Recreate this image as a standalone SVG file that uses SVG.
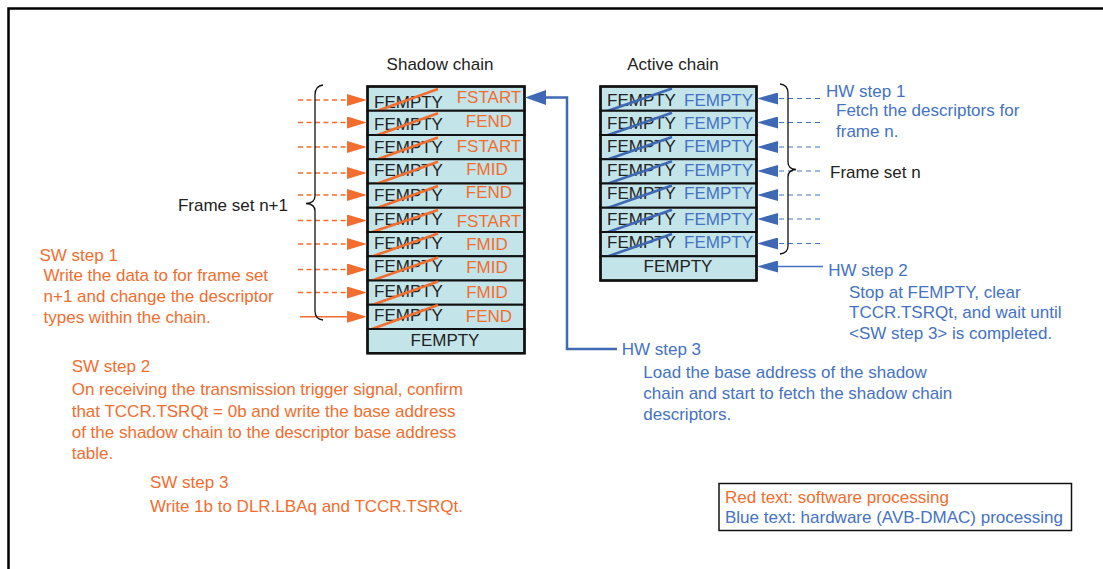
<svg xmlns="http://www.w3.org/2000/svg" width="1103" height="569" viewBox="0 0 1103 569">
<style>
text{font-family:"Liberation Sans",Arial,sans-serif;font-size:17px}
.k{fill:#222}
.o{fill:#F26D2E}
.b{fill:#4472C4}
.row{fill:#C3E4E9;stroke:#111;stroke-width:2}
.so{stroke:#F26D2E;stroke-width:2.5;fill:none}
.sb{stroke:#3F68B5;stroke-width:2.5;fill:none}
.dor{stroke:#F26D2E;stroke-width:1.4;stroke-dasharray:5 3.5;fill:none}
.dbl{stroke:#4472C4;stroke-width:1.2;stroke-dasharray:5 4;fill:none}
.brace{stroke:#111;stroke-width:1.3;fill:none}
.m{text-anchor:middle}
.e{text-anchor:end}
</style>
<defs>
<marker id="ao" viewBox="0 0 20 12" refX="0" refY="6" markerWidth="20" markerHeight="12" markerUnits="userSpaceOnUse" orient="auto"><path d="M0,0 L20,6 L0,12 z" fill="#F26D2E"/></marker>
<marker id="ab" viewBox="0 0 21 12" refX="0" refY="6" markerWidth="21" markerHeight="12" markerUnits="userSpaceOnUse" orient="auto"><path d="M0,0 L21,6 L0,12 z" fill="#3F68B5"/></marker>
<marker id="abL" viewBox="0 0 21 15" refX="0" refY="7.5" markerWidth="21" markerHeight="15" markerUnits="userSpaceOnUse" orient="auto"><path d="M0,0 L21,7.5 L0,15 z" fill="#3F68B5"/></marker>
</defs>
<rect x="8.5" y="8.5" width="1200" height="700" fill="none" stroke="#000" stroke-width="2.5"/>

<text id="title-shadow" class="k m" x="440" y="70">Shadow chain</text>
<text id="title-active" class="k m" x="673" y="69.5">Active chain</text>

<g id="shadow-chain">
<g id="s1"><rect class="row" x="367.5" y="86.5" width="157" height="24.25"/><text class="k" x="374" y="107.7">FEMPTY</text><text class="o m" x="489" y="103.3">FSTART</text><path class="so" d="M372,112.8 L438,89"/></g>
<g id="s2"><rect class="row" x="367.5" y="110.75" width="157" height="24.25"/><text class="k" x="374" y="130">FEMPTY</text><text class="o m" x="489" y="127.3">FEND</text><path class="so" d="M372,137 L438,113.2"/></g>
<g id="s3"><rect class="row" x="367.5" y="135" width="157" height="24.25"/><text class="k" x="374" y="152.7">FEMPTY</text><text class="o m" x="489" y="151.7">FSTART</text><path class="so" d="M372,161.2 L438,137.5"/></g>
<g id="s4"><rect class="row" x="367.5" y="159.25" width="157" height="24.25"/><text class="k" x="374" y="176">FEMPTY</text><text class="o m" x="487" y="175">FMID</text><path class="so" d="M372,185.5 L438,161.7"/></g>
<g id="s5"><rect class="row" x="367.5" y="183.5" width="157" height="24.25"/><text class="k" x="374" y="200.7">FEMPTY</text><text class="o m" x="489" y="198">FEND</text><path class="so" d="M372,209.7 L438,186"/></g>
<g id="s6"><rect class="row" x="367.5" y="207.75" width="157" height="24.25"/><text class="k" x="374" y="225">FEMPTY</text><text class="o m" x="489" y="226.7">FSTART</text><path class="so" d="M372,232 L438,210"/></g>
<g id="s7"><rect class="row" x="367.5" y="232" width="157" height="24.25"/><text class="k" x="374" y="249.3">FEMPTY</text><text class="o m" x="487" y="250">FMID</text><path class="so" d="M372,256.5 L438,233.5"/></g>
<g id="s8"><rect class="row" x="367.5" y="256.25" width="157" height="24.25"/><text class="k" x="374" y="271.7">FEMPTY</text><text class="o m" x="487" y="272.7">FMID</text><path class="so" d="M372,280.5 L438,257.5"/></g>
<g id="s9"><rect class="row" x="367.5" y="280.5" width="157" height="24.25"/><text class="k" x="374" y="296.7">FEMPTY</text><text class="o m" x="487" y="297.7">FMID</text><path class="so" d="M372,305 L438,281.5"/></g>
<g id="s10"><rect class="row" x="367.5" y="304.75" width="157" height="24.25"/><text class="k" x="374" y="320.7">FEMPTY</text><text class="o m" x="489" y="322.3">FEND</text><path class="so" d="M372,329 L438,305"/></g>
<g id="s11"><rect class="row" x="367.5" y="329" width="157" height="24.25"/><text class="k m" x="445" y="346">FEMPTY</text></g>
<rect x="367.5" y="86.5" width="157" height="266.75" fill="none" stroke="#111" stroke-width="2.5"/>
</g>

<g id="active-chain">
<g id="a1"><rect class="row" x="600.5" y="86.5" width="156" height="24.25"/><text class="k" x="607" y="105.5">FEMPTY</text><text class="b e" x="753" y="105.5">FEMPTY</text><path class="sb" d="M606,111.5 L672,88.5"/></g>
<g id="a2"><rect class="row" x="600.5" y="110.75" width="156" height="24.25"/><text class="k" x="607" y="129">FEMPTY</text><text class="b e" x="753" y="129">FEMPTY</text><path class="sb" d="M606,135.7 L672,112.7"/></g>
<g id="a3"><rect class="row" x="600.5" y="135" width="156" height="24.25"/><text class="k" x="607" y="152.3">FEMPTY</text><text class="b e" x="753" y="152.3">FEMPTY</text><path class="sb" d="M606,160 L672,137"/></g>
<g id="a4"><rect class="row" x="600.5" y="159.25" width="156" height="24.25"/><text class="k" x="607" y="175.7">FEMPTY</text><text class="b e" x="753" y="175.7">FEMPTY</text><path class="sb" d="M606,184.2 L672,161.2"/></g>
<g id="a5"><rect class="row" x="600.5" y="183.5" width="156" height="24.25"/><text class="k" x="607" y="199.3">FEMPTY</text><text class="b e" x="753" y="199.3">FEMPTY</text><path class="sb" d="M606,208.5 L672,185.5"/></g>
<g id="a6"><rect class="row" x="600.5" y="207.75" width="156" height="24.25"/><text class="k" x="607" y="225">FEMPTY</text><text class="b e" x="753" y="225">FEMPTY</text><path class="sb" d="M606,232.7 L672,209.7"/></g>
<g id="a7"><rect class="row" x="600.5" y="232" width="156" height="24.25"/><text class="k" x="607" y="247.7">FEMPTY</text><text class="b e" x="753" y="247.7">FEMPTY</text><path class="sb" d="M606,257 L672,234"/></g>
<g id="a8"><rect class="row" x="600.5" y="256.25" width="156" height="24.25"/><text class="k m" x="678" y="271.7">FEMPTY</text></g>
<rect x="600.5" y="86.5" width="156" height="194" fill="none" stroke="#111" stroke-width="2.5"/>
</g>

<g id="connectors">
<path class="dor" d="M298,100 H347" marker-end="url(#ao)"/>
<path class="dor" d="M298,122.5 H347" marker-end="url(#ao)"/>
<path class="dor" d="M298,147 H347" marker-end="url(#ao)"/>
<path class="dor" d="M298,173 H347" marker-end="url(#ao)"/>
<path class="dor" d="M298,195 H347" marker-end="url(#ao)"/>
<path class="dor" d="M298,220.5 H347" marker-end="url(#ao)"/>
<path class="dor" d="M298,244 H347" marker-end="url(#ao)"/>
<path class="dor" d="M298,269.5 H347" marker-end="url(#ao)"/>
<path class="dor" d="M298,292.5 H347" marker-end="url(#ao)"/>
<path d="M300,316.7 H347" stroke="#F26D2E" stroke-width="1.5" fill="none" marker-end="url(#ao)"/>

<path class="dbl" d="M820,98.5 H778" marker-end="url(#ab)"/>
<path class="dbl" d="M820,122.5 H778" marker-end="url(#ab)"/>
<path class="dbl" d="M820,147 H778" marker-end="url(#ab)"/>
<path class="dbl" d="M820,171 H778" marker-end="url(#ab)"/>
<path class="dbl" d="M820,195 H778" marker-end="url(#ab)"/>
<path class="dbl" d="M820,219 H778" marker-end="url(#ab)"/>
<path class="dbl" d="M820,243.5 H778" marker-end="url(#ab)"/>
<path d="M823,266.5 H778" stroke="#4472C4" stroke-width="1.5" fill="none" marker-end="url(#ab)"/>

<path d="M617,349 H567 V97.5 H546" stroke="#3F68B5" stroke-width="2.5" fill="none" marker-end="url(#abL)"/>

<path class="brace" d="M323,85 Q315,86 315,95 V196 Q315,203 306,203.5 Q315,204 315,211 V311 Q315,319 323,320"/>
<path class="brace" d="M780,84 Q788,85 788,93 V162 Q788,169 796,169.5 Q788,170 788,177 V246 Q788,253 780,254"/>
</g>

<g id="labels">
<text class="k e" x="288" y="210.7">Frame set n+1</text>
<text class="k" x="830" y="178">Frame set n</text>

<text class="o" x="39.5" y="260.7">SW step 1</text>
<text class="o" x="43.5" y="280.7">Write the data to for frame set</text>
<text class="o" x="43.5" y="301.7">n+1 and change the descriptor</text>
<text class="o" x="43.5" y="323">types within the chain.</text>

<text class="o" x="71.7" y="371.7">SW step 2</text>
<text class="o" x="71.7" y="395">On receiving the transmission trigger signal, confirm</text>
<text class="o" x="71.7" y="416.5">that TCCR.TSRQt = 0b and write the base address</text>
<text class="o" x="71.7" y="437.7">of the shadow chain to the descriptor base address</text>
<text class="o" x="71.7" y="459">table.</text>

<text class="o" x="150" y="488.3">SW step 3</text>
<text class="o" x="150" y="511.7">Write 1b to DLR.LBAq and TCCR.TSRQt.</text>

<text class="b" x="826" y="96.7">HW step 1</text>
<text class="b" x="836" y="116">Fetch the descriptors for</text>
<text class="b" x="836" y="137">frame n.</text>

<text class="b" x="828.3" y="276">HW step 2</text>
<text class="b" x="849" y="297.7">Stop at FEMPTY, clear</text>
<text class="b" x="849" y="318.3">TCCR.TSRQt, and wait until</text>
<text class="b" x="849" y="339.3">&lt;SW step 3&gt; is completed.</text>

<text class="b" x="621.7" y="355">HW step 3</text>
<text class="b" x="643.3" y="378.3">Load the base address of the shadow</text>
<text class="b" x="643.3" y="399.3">chain and start to fetch the shadow chain</text>
<text class="b" x="643.3" y="420">descriptors.</text>
</g>

<g id="legend">
<rect x="719" y="483.5" width="352.5" height="47" fill="#fff" stroke="#111" stroke-width="1.5"/>
<text class="o" x="725" y="503.3">Red text: software processing</text>
<text class="b" x="725" y="523.3">Blue text: hardware (AVB-DMAC) processing</text>
</g>
</svg>
